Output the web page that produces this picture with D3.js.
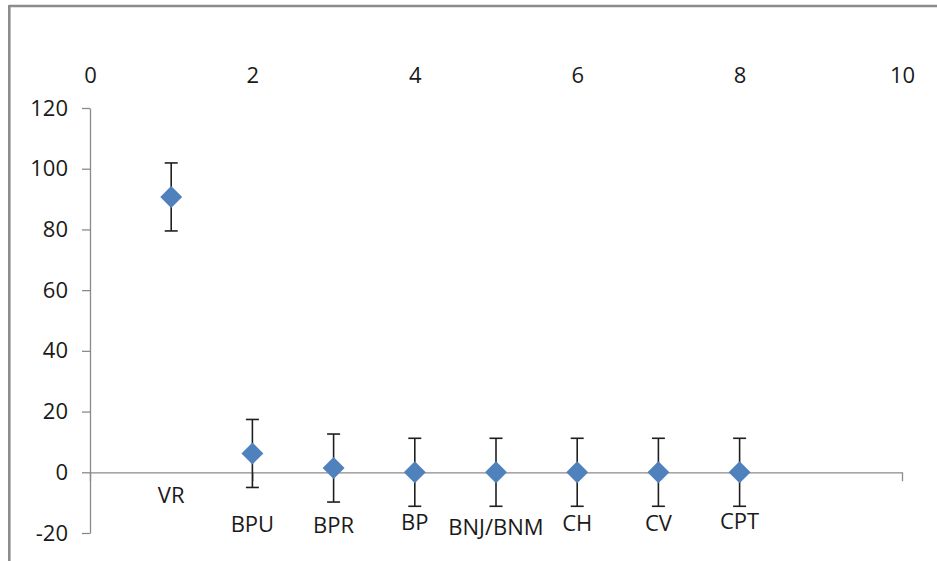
<!DOCTYPE html>
<html>
<head>
<meta charset="utf-8">
<script src="https://cdn.jsdelivr.net/npm/d3@7/dist/d3.min.js"></script>
<style>
  html, body { margin: 0; padding: 0; background: #fff; }
  svg { display: block; }
  text { font-family: "Open Sans", "Noto Sans", sans-serif; fill: #1a1a1a; }
</style>
</head>
<body>
<svg id="chart" width="937" height="561"></svg>
<script>
// Groups and their measured means with error (±) values
const categories = ["VR", "BPU", "BPR", "BP", "BNJ/BNM", "CH", "CV", "CPT"];
const xValues = [1, 2, 3, 4, 5, 6, 7, 8];
const means = [90.7, 6.2, 1.4, 0, 0, 0, 0, 0];
const errors = [11.2, 11.2, 11.2, 11.2, 11.2, 11.2, 11.2, 11.2];
// Value at which each group's name is written
const labelAt = [-7.6, -17.1, -17.5, -16.5, -18.1, -16.8, -16.6, -16.1];
const xTicks = [0, 2, 4, 6, 8, 10];
const yTicks = [-20, 0, 20, 40, 60, 80, 100, 120];

const svg = d3.select("#chart");
const fontSize = "22px";
const plain = d => String(d); // plain hyphen-minus for negatives

// Outer frame (top and left edges)
svg.append("line").attr("x1", 9).attr("x2", 937).attr("y1", 6).attr("y2", 6)
  .attr("stroke", "#8c8c8c").attr("stroke-width", 2.6);
svg.append("line").attr("x1", 9.3).attr("x2", 9.3).attr("y1", 5).attr("y2", 561)
  .attr("stroke", "#8c8c8c").attr("stroke-width", 2.6);

const x = d3.scaleLinear().domain([0, 10]).range([90, 902]);
const y = d3.scaleLinear().domain([-20, 120]).range([533, 108]);

const axisColor = "#8a8a8a";

// Y axis on the left
const yAxis = svg.append("g")
  .attr("transform", `translate(${x(0)},0)`)
  .call(d3.axisLeft(y).tickValues(yTicks).tickFormat(plain)
    .tickSize(8).tickSizeOuter(0).tickPadding(14));
yAxis.selectAll("path, line").attr("stroke", axisColor).attr("stroke-width", 1.3);
yAxis.selectAll("text").style("font-size", fontSize).attr("fill", "#1a1a1a")
  .style("font-family", "'Open Sans', sans-serif");

// X axis line crossing at zero, with downward ticks
const xAxis = svg.append("g")
  .attr("transform", `translate(0,${y(0)})`)
  .call(d3.axisBottom(x).tickValues(xTicks).tickSize(9).tickSizeOuter(0).tickFormat(""));
xAxis.selectAll("path, line").attr("stroke", axisColor).attr("stroke-width", 1.3);

// X tick labels written along the top
const xTop = svg.append("g")
  .attr("transform", "translate(0,75)")
  .call(d3.axisTop(x).tickValues(xTicks).tickFormat(plain).tickSize(0).tickPadding(0));
xTop.select(".domain").remove();
xTop.selectAll("text")
  .attr("dy", "0.36em")
  .style("font-size", fontSize).attr("fill", "#1a1a1a")
  .style("font-family", "'Open Sans', sans-serif");

const rows = categories.map((c, i) => ({
  name: c, x: xValues[i], v: means[i], e: errors[i], lab: labelAt[i]
}));

// Error bars
const capHalf = 6.5;
const eb = svg.append("g").attr("stroke", "#1f1f1f").attr("stroke-width", 1.6);
rows.forEach(d => {
  const cx = x(d.x), top = y(d.v + d.e), bot = y(d.v - d.e);
  eb.append("line").attr("x1", cx).attr("x2", cx).attr("y1", top).attr("y2", bot);
  eb.append("line").attr("x1", cx - capHalf).attr("x2", cx + capHalf).attr("y1", top).attr("y2", top);
  eb.append("line").attr("x1", cx - capHalf).attr("x2", cx + capHalf).attr("y1", bot).attr("y2", bot);
});

// Diamond markers
const diamond = d3.symbol().type(d3.symbolSquare).size(240);
svg.append("g").selectAll("path").data(rows).join("path")
  .attr("d", diamond)
  .attr("transform", d => `translate(${x(d.x)},${y(d.v)}) rotate(45)`)
  .attr("fill", "#4f81bd");

// Group names
svg.append("g").selectAll("text").data(rows).join("text")
  .attr("x", d => x(d.x))
  .attr("y", d => y(d.lab))
  .attr("dy", "0.36em")
  .attr("text-anchor", "middle")
  .style("font-size", fontSize)
  .text(d => d.name);
</script>
</body>
</html>
